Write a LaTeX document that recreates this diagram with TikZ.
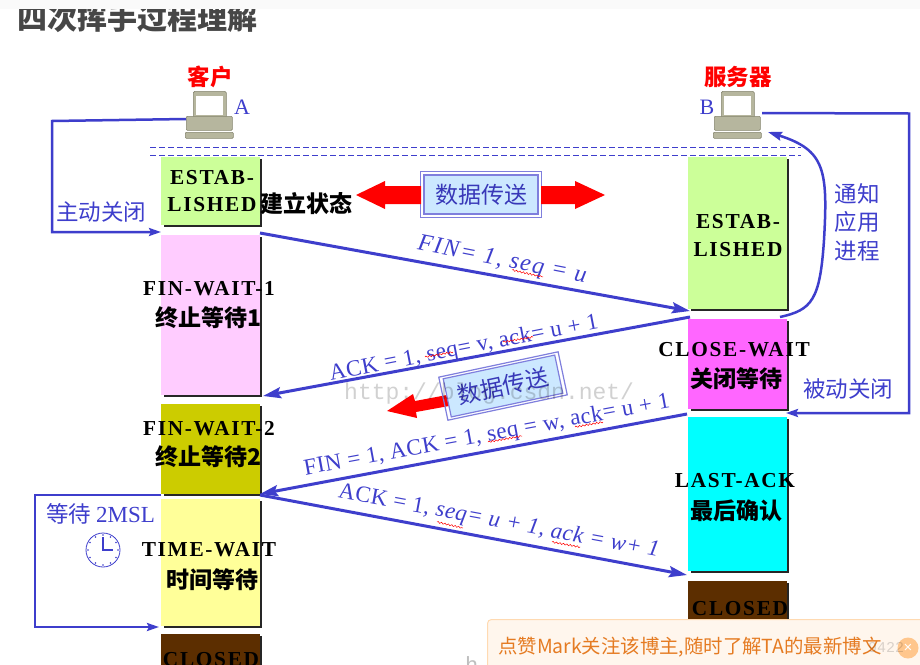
\documentclass[tikz,border=0pt]{standalone}
\usepackage{fontspec}
\setmainfont{Liberation Serif}
\newfontfamily\cjk{Noto Sans CJK SC}
\newfontfamily\stf[LetterSpace=8]{Liberation Serif}
\newfontfamily\msgf[LetterSpace=2]{Liberation Serif}
\newfontfamily\msgw[LetterSpace=6]{Liberation Serif}
\newfontfamily\sansui{Liberation Sans}
\newfontfamily\wm{Liberation Mono}
\usetikzlibrary{arrows.meta,decorations.pathmorphing}
\definecolor{lnk}{HTML}{3E3ECC}
\definecolor{lapA}{HTML}{B6B69E}
\definecolor{lapD}{HTML}{85856E}
\definecolor{dataB}{HTML}{CCE8FF}
\definecolor{dataL}{HTML}{7F7FDD}
\definecolor{orangeT}{HTML}{E57B22}
\definecolor{cEst}{HTML}{CCFF99}
\definecolor{cFw1}{HTML}{FFCCFF}
\definecolor{cFw2}{HTML}{CCCC00}
\definecolor{cTw}{HTML}{FFFF99}
\definecolor{cCl}{HTML}{5C2E00}
\definecolor{cCw}{HTML}{FF66FF}
\definecolor{cLa}{HTML}{00FFFF}
\tikzset{
  stateline/.style={draw=black!85,line width=2pt},
  st/.style={font=\fontsize{21.3}{24}\selectfont\stf\bfseries,text=black,inner sep=0pt,align=center},
  stc/.style={font=\fontsize{23}{26}\selectfont\cjk\bfseries,text=black,inner sep=0pt,align=center},
  blue label/.style={font=\fontsize{22.5}{24}\selectfont\cjk,text=lnk,inner sep=0pt},
  msg/.style={font=\fontsize{23}{24}\selectfont\msgf,text=lnk,inner sep=0pt},
  main/.style={draw=lnk,line width=3pt,-{Stealth[length=18pt,width=11pt,inset=3pt]}},
  loop/.style={draw=lnk,line width=2.5pt,-{Stealth[length=12pt,width=8pt,inset=2pt]}},
  title red/.style={font=\fontsize{22.5}{24}\selectfont\cjk\bfseries,text=red,inner sep=0pt},
  databox/.style={draw=dataL,line width=1.2pt,fill=dataB,minimum width=114pt,minimum height=39pt,inner sep=0pt,
     font=\fontsize{23}{26}\selectfont\cjk,text=lnk!90!black},
  redarrow/.style={fill=red,draw=none},
  squig/.style={draw=red,line width=.5pt,decorate,decoration={snake,amplitude=.8pt,segment length=3.5pt}},
  dash line/.style={draw=lnk,line width=1pt,dash pattern=on 6pt off 3pt},
}
\newcommand{\statenode}[6]{% name x y w h colour
  \node[anchor=north west,fill=#6,minimum width=#4pt,minimum height=#5pt,inner sep=0pt,outer sep=0pt] (#1) at (#2,#3) {};
  \draw[stateline] ([xshift=1pt,yshift=-2pt]#1.north east) -- ([xshift=1pt,yshift=-1pt]#1.south east) -- ([xshift=3pt,yshift=-1pt]#1.south west);
}
\newcommand{\laptop}[3]{% name x y (top-left of screen)
  \begin{scope}[shift={(#2,#3)}]
    \node[anchor=north west,draw=lapD,fill=lapA,rounded corners=1.5pt,line width=.6pt,minimum width=33pt,minimum height=27pt,inner sep=0pt] (#1scr) at (0,0) {};
    \fill[white] (3,5) rectangle (30,24);
    \node[anchor=north west,fill=lapA,draw=lapD,line width=.6pt,rounded corners=1pt,minimum width=46pt,minimum height=14pt,inner sep=0pt] (#1base) at (-7,25) {};
    \node[anchor=north west,fill=lapA,draw=lapD,line width=.6pt,rounded corners=1pt,minimum width=48pt,minimum height=6pt,inner sep=0pt] (#1foot) at (-8,41) {};
  \end{scope}
}
\begin{document}
\begin{tikzpicture}[x=1pt,y=-1pt]
\useasboundingbox (0,0) rectangle (920,664);
\clip (0,0) rectangle (920,664);
\fill[white] (0,0) rectangle (920,664);
% title
\node[anchor=base west,font=\fontsize{30}{32}\selectfont\cjk\bfseries,text=black!72,inner sep=0pt] (title) at (17,29) {四次挥手过程理解};
\fill[black!2] (0,0) rectangle (920,9);
% watermark bottom
\node[anchor=base west,font=\fontsize{22}{24}\selectfont\wm,text=black!25,inner sep=0pt] (wmh) at (465,672) {h};
% dashed
\coordinate (dl1) at (150,147); \coordinate (dr1) at (801,147);
\coordinate (dl2) at (150,155); \coordinate (dr2) at (801,155);
\draw[dash line] (dl1) -- (dr1);
\draw[dash line] (dl2) -- (dr2);
% laptops
\laptop{A}{193}{91}
\laptop{B}{721}{91}
\node[title red] (kh) at (210,77) {客户};
\node[title red] (fwq) at (738,77) {服务器};
\node[font=\fontsize{22}{24}\selectfont,text=lnk,inner sep=0pt] (la) at (242,107) {A};
\node[font=\fontsize{22}{24}\selectfont,text=lnk,inner sep=0pt] (lb) at (707,107) {B};
% state boxes
\statenode{le}{161}{157}{99}{68}{cEst}
\statenode{lf}{161}{235}{99}{160}{cFw1}
\statenode{lg}{161}{404}{99}{90}{cFw2}
\statenode{lt}{161}{499}{99}{127}{cTw}
\statenode{lc}{161}{634}{99}{40}{cCl}
\statenode{re}{688}{157}{99}{152}{cEst}
\statenode{rw}{688}{319}{99}{90}{cCw}
\statenode{rl}{688}{417}{99}{154}{cLa}
\statenode{rc}{688}{581}{99}{50}{cCl}
% state texts
\node[st] (t1) at (212,178) {ESTAB-};
\node[st] (t2) at (212,205) {LISHED};
\node[font=\fontsize{23}{26}\selectfont\cjk\bfseries,inner sep=0pt] (t3) at (306,204) {建立状态};
\node[st] (t4) at (209,289) {FIN-WAIT-1};
\node[stc] (t5) at (209,318) {终止等待1};
\node[st] (t6) at (209,429) {FIN-WAIT-2};
\node[stc] (t7) at (209,457) {终止等待2};
\node[st] (t8) at (209,550) {TIME-WAIT};
\node[stc] (t9) at (212,580) {时间等待};
\node[st] (t10) at (211,660) {CLOSED};
\node[st] (t11) at (738,222) {ESTAB-};
\node[st] (t12) at (738,250) {LISHED};
\node[st] (t13) at (734,350) {CLOSE-WAIT};
\node[stc] (t14) at (736,379) {关闭等待};
\node[st] (t15) at (735,481) {LAST-ACK};
\node[stc] (t16) at (736,511) {最后确认};
\node[st] (t17) at (740,609) {CLOSED};
% data band 1
\node[databox] (d1) at (481,194.5) {数据传送};
\draw[dataL,line width=1.2pt] ([xshift=-3pt,yshift=3pt]d1.north west) rectangle ([xshift=3pt,yshift=-3pt]d1.south east);
\coordinate (d1l) at (421,195); \coordinate (d1r) at (541,195);
\fill[redarrow] (d1l) ++(0,-9) -- (385,186) -- (385,181) -- (356,195) -- (385,209) -- (385,204) -- (421,204) -- cycle;
\fill[redarrow] (d1r) ++(0,-9) -- (575,186) -- (575,181) -- (605,195) -- (575,209) -- (575,204) -- (541,204) -- cycle;
% data band 2
\fill[redarrow] (447,395) -- (415,401) -- (413,394) -- (387,411) -- (417,418) -- (416,412) -- (449,406) -- cycle;
\node[databox,rotate=12] (d2) at (503,386) {数据传送};
\draw[dataL,line width=1.2pt,rotate around={12:(503,386)}] (442,364) rectangle (564,408);
% watermark
\node[anchor=base west,font=\fontsize{23}{24}\selectfont\wm,text=black,opacity=.18,inner sep=0pt] (wm) at (344,399) {http://blog.csdn.net/};
% anchors for free ends
\coordinate (Aout) at (186,119);
\coordinate (Bout) at (762,113);
\coordinate (Bin) at (768,132);
% loops
\draw[loop] (Aout) -- (52,121) -- (52,232) -- ([yshift=3pt]lf.north west);
\draw[loop] ([yshift=-1pt]lg.south west) -- (35,495) -- (35,627) -- ([xshift=-2pt,yshift=-1pt]lt.south west);
\draw[loop] (Bout) -- (909,113.5) -- (909,413) -- ([xshift=-1pt,yshift=-4pt]rw.south east);
\draw[draw=lnk,line width=2.5pt,-{Stealth[length=14pt,width=9pt,inset=2pt]}] ([xshift=-7pt,yshift=2pt]rw.north east) .. controls (812,310) and (820,300) .. (824,240) .. controls (828,170) and (825,150) .. (Bin);
% messages
\draw[main] ([yshift=2pt]lf.north east) -- ([xshift=2pt,yshift=-2pt]re.south west);
\draw[main] ([xshift=2pt,yshift=2pt]rw.north west) -- ([xshift=3pt,yshift=-1pt]lf.south east);
\draw[main] ([xshift=-1pt,yshift=-5pt]rw.south west) -- (lg.south east);
\draw[main] ([yshift=-1pt]lg.south east) -- ([xshift=-1pt,yshift=-4pt]rl.south west);
\node[msg,rotate=-11,font=\fontsize{24}{26}\selectfont\msgw\itshape] (m1) at (502,261) {FIN= 1, seq = u};
\node[msg,rotate=11] (m2) at (464,349) {ACK = 1, seq= v, ack= u + 1};
\node[msg,rotate=10.5] (m3) at (487,436) {FIN = 1, ACK = 1, seq = w, ack= u + 1};
\node[msg,rotate=-10.5] (m4) at (499,522) {ACK = 1, \textit{seq= u + 1, ack = w+ 1}};
\draw[squig] (512,270) -- (543,277);
\draw[squig] (425,357) -- (453,352);
\draw[squig] (503,342) -- (533,337);
\draw[squig] (488,442) -- (522,436);
\draw[squig] (575,427) -- (603,422);
\draw[squig] (437,522) -- (463,528);
\draw[squig] (552,542) -- (580,547);
% side labels
\node[blue label] (s1) at (101,212) {主动关闭};
\node[blue label] (s2) at (857,194) {通知};
\node[blue label] (s3) at (857,222) {应用};
\node[blue label] (s4) at (857,251) {进程};
\node[blue label] (s5) at (848,389) {被动关闭};
\node[blue label,anchor=base west] (s6) at (46,522) {等待 {\fontsize{23}{24}\selectfont\rmfamily 2MSL}};
% clock
\node[circle,draw=lnk,line width=.8pt,minimum size=34pt,inner sep=0pt] (clk) at (103,550) {};
\foreach \a in {0,30,...,330} \fill[lnk] (clk.center) ++(\a:15) circle (.8);
\draw[lnk,line width=1.2pt] (103,537) -- (clk.center) -- (113,550);
% banner
\node[anchor=north west,draw={rgb,255:red,255;green,218;blue,178},fill={rgb,255:red,255;green,246;blue,237},rounded corners=4pt,line width=1pt,minimum width=445pt,minimum height=60pt,inner sep=0pt] (ban) at (487,619) {};
\node[anchor=base west,font=\fontsize{19.4}{22}\selectfont\cjk,text=orangeT,inner sep=0pt] (bt) at (498,653) {点赞Mark关注该博主,随时了解TA的最新博文};
\node[circle,fill=orange!45,minimum size=21pt,inner sep=0pt,font=\fontsize{15}{16}\selectfont\sansui,text=white] (bx) at (908,648) {×};
\node[anchor=base west,font=\fontsize{15}{18}\selectfont\wm,text=black,opacity=.15,inner sep=0pt] (bw) at (868,652) {9422};
\end{tikzpicture}
\end{document}
